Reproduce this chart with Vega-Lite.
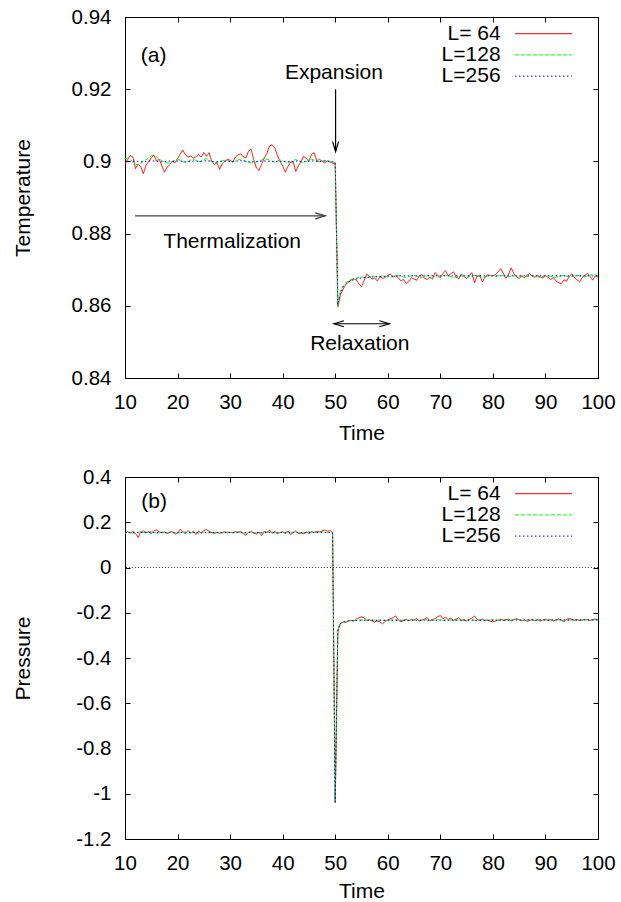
{
"$schema":"https://vega.github.io/schema/vega-lite/v6.json",
"padding":{"left":11,"top":6,"right":0,"bottom":0},
"background":"white",
"spacing":22,
"config":{
"font":"Liberation Sans",
"view":{"stroke":"#000","strokeWidth":1},
"axis":{"domain":false,"grid":false,"tickSize":-5,"tickColor":"#000","tickWidth":1,"labelFont":"Liberation Sans","labelFontSize":20.5,"labelColor":"#000","labelPadding":19,"labelFlush":false,"labelOverlap":false,"titleFont":"Liberation Sans","titleFontSize":21,"titleFontWeight":"normal","titleColor":"#000"},
"text":{"font":"Liberation Sans","fontSize":21,"color":"#000"}
},
"resolve":{"scale":{"color":"independent","strokeDash":"independent"}},
"datasets":{
"temp":[
{"t":10,"L64":0.8992,"L128":0.9008,"L256":0.9001},{"t":10.5,"L64":0.9005,"L128":0.9009,"L256":0.9000},{"t":11,"L64":0.9016,"L128":0.9005,"L256":0.8999},{"t":11.5,"L64":0.9012,"L128":0.8998,"L256":0.9000},{"t":12,"L64":0.8980,"L128":0.8992,"L256":0.9001},{"t":12.5,"L64":0.8993,"L128":0.8990,"L256":0.9000},{"t":13,"L64":0.8985,"L128":0.8995,"L256":0.8999},{"t":13.5,"L64":0.8966,"L128":0.9000,"L256":0.8999},{"t":14,"L64":0.8990,"L128":0.9004,"L256":0.9000},{"t":14.5,"L64":0.8999,"L128":0.9010,"L256":0.9001},
{"t":15,"L64":0.9010,"L128":0.9015,"L256":0.9002},{"t":15.5,"L64":0.9017,"L128":0.9018,"L256":0.9001},{"t":16,"L64":0.9001,"L128":0.9012,"L256":0.9000},{"t":16.5,"L64":0.9006,"L128":0.9007,"L256":0.8999},{"t":17,"L64":0.8988,"L128":0.9002,"L256":0.8999},{"t":17.5,"L64":0.8970,"L128":0.8998,"L256":0.9000},{"t":18,"L64":0.8983,"L128":0.8995,"L256":0.9000},{"t":18.5,"L64":0.8992,"L128":0.8997,"L256":0.9001},{"t":19,"L64":0.9000,"L128":0.9000,"L256":0.9000},{"t":19.5,"L64":0.8996,"L128":0.9003,"L256":0.9000},
{"t":20,"L64":0.9008,"L128":0.9006,"L256":0.9001},{"t":20.5,"L64":0.9020,"L128":0.9003,"L256":0.9001},{"t":21,"L64":0.9031,"L128":0.8999,"L256":0.9000},{"t":21.5,"L64":0.9018,"L128":0.8997,"L256":0.8999},{"t":22,"L64":0.9012,"L128":0.9000,"L256":0.8999},{"t":22.5,"L64":0.9015,"L128":0.9004,"L256":0.9000},{"t":23,"L64":0.9009,"L128":0.9006,"L256":0.9001},{"t":23.5,"L64":0.9013,"L128":0.9003,"L256":0.9001},{"t":24,"L64":0.9019,"L128":0.8999,"L256":0.9000},{"t":24.5,"L64":0.9012,"L128":0.9001,"L256":0.9000},
{"t":25,"L64":0.9025,"L128":0.9005,"L256":0.9001},{"t":25.5,"L64":0.9014,"L128":0.9008,"L256":0.9002},{"t":26,"L64":0.9024,"L128":0.9004,"L256":0.9001},{"t":26.5,"L64":0.9000,"L128":0.9000,"L256":0.9000},{"t":27,"L64":0.8991,"L128":0.8997,"L256":0.8999},{"t":27.5,"L64":0.8996,"L128":0.8996,"L256":0.8999},{"t":28,"L64":0.8978,"L128":0.8999,"L256":0.9000},{"t":28.5,"L64":0.8993,"L128":0.9002,"L256":0.9000},{"t":29,"L64":0.9000,"L128":0.9004,"L256":0.9001},{"t":29.5,"L64":0.9006,"L128":0.9002,"L256":0.9001},
{"t":30,"L64":0.9003,"L128":0.8999,"L256":0.9000},{"t":30.5,"L64":0.8998,"L128":0.8998,"L256":0.9000},{"t":31,"L64":0.9012,"L128":0.9001,"L256":0.9001},{"t":31.5,"L64":0.9018,"L128":0.9004,"L256":0.9001},{"t":32,"L64":0.9021,"L128":0.9006,"L256":0.9002},{"t":32.5,"L64":0.9013,"L128":0.9003,"L256":0.9001},{"t":33,"L64":0.9010,"L128":0.9000,"L256":0.9000},{"t":33.5,"L64":0.9028,"L128":0.8997,"L256":0.8999},{"t":34,"L64":0.9034,"L128":0.8996,"L256":0.8999},{"t":34.5,"L64":0.9004,"L128":0.8995,"L256":0.8999},
{"t":35,"L64":0.8982,"L128":0.8998,"L256":0.9000},{"t":35.5,"L64":0.8975,"L128":0.9001,"L256":0.9000},{"t":36,"L64":0.8992,"L128":0.9004,"L256":0.9001},{"t":36.5,"L64":0.9010,"L128":0.9007,"L256":0.9001},{"t":37,"L64":0.9022,"L128":0.9006,"L256":0.9001},{"t":37.5,"L64":0.9043,"L128":0.9003,"L256":0.9000},{"t":38,"L64":0.9046,"L128":0.9000,"L256":0.9000},{"t":38.5,"L64":0.9038,"L128":0.8998,"L256":0.8999},{"t":39,"L64":0.9016,"L128":0.9001,"L256":0.9000},{"t":39.5,"L64":0.9000,"L128":0.9004,"L256":0.9000},
{"t":40,"L64":0.8988,"L128":0.9002,"L256":0.9001},{"t":40.5,"L64":0.8970,"L128":0.8998,"L256":0.9000},{"t":41,"L64":0.8986,"L128":0.8996,"L256":0.8999},{"t":41.5,"L64":0.8997,"L128":0.8999,"L256":0.9000},{"t":42,"L64":0.8999,"L128":0.9003,"L256":0.9000},{"t":42.5,"L64":0.8972,"L128":0.9005,"L256":0.9001},{"t":43,"L64":0.8988,"L128":0.9002,"L256":0.9001},{"t":43.5,"L64":0.9000,"L128":0.8998,"L256":0.9000},{"t":44,"L64":0.9014,"L128":0.8997,"L256":0.8999},{"t":44.5,"L64":0.9008,"L128":0.9000,"L256":0.9000},
{"t":45,"L64":0.9001,"L128":0.9003,"L256":0.9000},{"t":45.5,"L64":0.9020,"L128":0.9006,"L256":0.9001},{"t":46,"L64":0.9024,"L128":0.9004,"L256":0.9001},{"t":46.5,"L64":0.9001,"L128":0.9001,"L256":0.9000},{"t":47,"L64":0.9006,"L128":0.8999,"L256":0.9000},{"t":47.5,"L64":0.9000,"L128":0.9001,"L256":0.9000},{"t":48,"L64":0.8996,"L128":0.9003,"L256":0.9001},{"t":48.5,"L64":0.9001,"L128":0.9002,"L256":0.9000},{"t":49,"L64":0.8999,"L128":0.9000,"L256":0.9000},{"t":49.5,"L64":0.8995,"L128":0.8999,"L256":0.8999},
{"t":50,"L64":0.8993,"L128":0.8996,"L256":0.8997},{"t":50.5,"L64":0.8597,"L128":0.8601,"L256":0.8603},{"t":51,"L64":0.8630,"L128":0.8641,"L256":0.8638},{"t":51.5,"L64":0.8646,"L128":0.8656,"L256":0.8652},{"t":52,"L64":0.8658,"L128":0.8664,"L256":0.8661},{"t":52.5,"L64":0.8666,"L128":0.8669,"L256":0.8666},{"t":53,"L64":0.8671,"L128":0.8673,"L256":0.8670},{"t":53.5,"L64":0.8675,"L128":0.8675,"L256":0.8672},{"t":54,"L64":0.8672,"L128":0.8677,"L256":0.8674},{"t":54.5,"L64":0.8661,"L128":0.8678,"L256":0.8676},
{"t":55,"L64":0.8653,"L128":0.8680,"L256":0.8677},{"t":55.5,"L64":0.8670,"L128":0.8679,"L256":0.8678},{"t":56,"L64":0.8688,"L128":0.8677,"L256":0.8679},{"t":56.5,"L64":0.8681,"L128":0.8680,"L256":0.8679},{"t":57,"L64":0.8674,"L128":0.8682,"L256":0.8680},{"t":57.5,"L64":0.8677,"L128":0.8681,"L256":0.8680},{"t":58,"L64":0.8669,"L128":0.8679,"L256":0.8681},{"t":58.5,"L64":0.8680,"L128":0.8681,"L256":0.8681},{"t":59,"L64":0.8676,"L128":0.8683,"L256":0.8681},{"t":59.5,"L64":0.8678,"L128":0.8682,"L256":0.8682},
{"t":60,"L64":0.8684,"L128":0.8680,"L256":0.8682},{"t":60.5,"L64":0.8688,"L128":0.8679,"L256":0.8682},{"t":61,"L64":0.8680,"L128":0.8681,"L256":0.8682},{"t":61.5,"L64":0.8683,"L128":0.8683,"L256":0.8682},{"t":62,"L64":0.8678,"L128":0.8684,"L256":0.8683},{"t":62.5,"L64":0.8669,"L128":0.8682,"L256":0.8683},{"t":63,"L64":0.8673,"L128":0.8680,"L256":0.8683},{"t":63.5,"L64":0.8662,"L128":0.8679,"L256":0.8683},{"t":64,"L64":0.8668,"L128":0.8681,"L256":0.8683},{"t":64.5,"L64":0.8678,"L128":0.8683,"L256":0.8683},
{"t":65,"L64":0.8674,"L128":0.8684,"L256":0.8683},{"t":65.5,"L64":0.8671,"L128":0.8682,"L256":0.8683},{"t":66,"L64":0.8683,"L128":0.8680,"L256":0.8683},{"t":66.5,"L64":0.8687,"L128":0.8679,"L256":0.8683},{"t":67,"L64":0.8676,"L128":0.8681,"L256":0.8683},{"t":67.5,"L64":0.8673,"L128":0.8683,"L256":0.8683},{"t":68,"L64":0.8679,"L128":0.8685,"L256":0.8683},{"t":68.5,"L64":0.8674,"L128":0.8683,"L256":0.8683},{"t":69,"L64":0.8692,"L128":0.8681,"L256":0.8683},{"t":69.5,"L64":0.8684,"L128":0.8680,"L256":0.8683},
{"t":70,"L64":0.8678,"L128":0.8682,"L256":0.8683},{"t":70.5,"L64":0.8690,"L128":0.8684,"L256":0.8683},{"t":71,"L64":0.8697,"L128":0.8685,"L256":0.8683},{"t":71.5,"L64":0.8683,"L128":0.8683,"L256":0.8683},{"t":72,"L64":0.8689,"L128":0.8680,"L256":0.8683},{"t":72.5,"L64":0.8694,"L128":0.8678,"L256":0.8683},{"t":73,"L64":0.8680,"L128":0.8680,"L256":0.8683},{"t":73.5,"L64":0.8675,"L128":0.8682,"L256":0.8683},{"t":74,"L64":0.8688,"L128":0.8683,"L256":0.8683},{"t":74.5,"L64":0.8682,"L128":0.8681,"L256":0.8683},
{"t":75,"L64":0.8676,"L128":0.8679,"L256":0.8683},{"t":75.5,"L64":0.8684,"L128":0.8680,"L256":0.8683},{"t":76,"L64":0.8692,"L128":0.8682,"L256":0.8683},{"t":76.5,"L64":0.8664,"L128":0.8684,"L256":0.8683},{"t":77,"L64":0.8682,"L128":0.8683,"L256":0.8683},{"t":77.5,"L64":0.8685,"L128":0.8681,"L256":0.8683},{"t":78,"L64":0.8666,"L128":0.8679,"L256":0.8683},{"t":78.5,"L64":0.8680,"L128":0.8680,"L256":0.8683},{"t":79,"L64":0.8686,"L128":0.8682,"L256":0.8683},{"t":79.5,"L64":0.8684,"L128":0.8684,"L256":0.8683},
{"t":80,"L64":0.8683,"L128":0.8683,"L256":0.8683},{"t":80.5,"L64":0.8686,"L128":0.8681,"L256":0.8683},{"t":81,"L64":0.8694,"L128":0.8683,"L256":0.8683},{"t":81.5,"L64":0.8703,"L128":0.8685,"L256":0.8683},{"t":82,"L64":0.8690,"L128":0.8684,"L256":0.8683},{"t":82.5,"L64":0.8676,"L128":0.8682,"L256":0.8683},{"t":83,"L64":0.8688,"L128":0.8680,"L256":0.8683},{"t":83.5,"L64":0.8705,"L128":0.8681,"L256":0.8683},{"t":84,"L64":0.8689,"L128":0.8683,"L256":0.8683},{"t":84.5,"L64":0.8680,"L128":0.8684,"L256":0.8683},
{"t":85,"L64":0.8676,"L128":0.8682,"L256":0.8683},{"t":85.5,"L64":0.8683,"L128":0.8680,"L256":0.8683},{"t":86,"L64":0.8678,"L128":0.8679,"L256":0.8683},{"t":86.5,"L64":0.8685,"L128":0.8681,"L256":0.8683},{"t":87,"L64":0.8689,"L128":0.8683,"L256":0.8683},{"t":87.5,"L64":0.8682,"L128":0.8684,"L256":0.8683},{"t":88,"L64":0.8679,"L128":0.8682,"L256":0.8683},{"t":88.5,"L64":0.8684,"L128":0.8680,"L256":0.8683},{"t":89,"L64":0.8680,"L128":0.8679,"L256":0.8683},{"t":89.5,"L64":0.8677,"L128":0.8681,"L256":0.8683},
{"t":90,"L64":0.8683,"L128":0.8683,"L256":0.8683},{"t":90.5,"L64":0.8679,"L128":0.8684,"L256":0.8683},{"t":91,"L64":0.8673,"L128":0.8682,"L256":0.8683},{"t":91.5,"L64":0.8678,"L128":0.8680,"L256":0.8683},{"t":92,"L64":0.8669,"L128":0.8679,"L256":0.8683},{"t":92.5,"L64":0.8664,"L128":0.8681,"L256":0.8683},{"t":93,"L64":0.8661,"L128":0.8683,"L256":0.8683},{"t":93.5,"L64":0.8672,"L128":0.8684,"L256":0.8683},{"t":94,"L64":0.8668,"L128":0.8682,"L256":0.8683},{"t":94.5,"L64":0.8680,"L128":0.8680,"L256":0.8683},
{"t":95,"L64":0.8689,"L128":0.8681,"L256":0.8683},{"t":95.5,"L64":0.8678,"L128":0.8683,"L256":0.8683},{"t":96,"L64":0.8672,"L128":0.8685,"L256":0.8683},{"t":96.5,"L64":0.8666,"L128":0.8683,"L256":0.8683},{"t":97,"L64":0.8679,"L128":0.8681,"L256":0.8683},{"t":97.5,"L64":0.8685,"L128":0.8680,"L256":0.8683},{"t":98,"L64":0.8690,"L128":0.8682,"L256":0.8683},{"t":98.5,"L64":0.8681,"L128":0.8685,"L256":0.8683},{"t":99,"L64":0.8671,"L128":0.8687,"L256":0.8683},{"t":99.5,"L64":0.8683,"L128":0.8685,"L256":0.8683},
{"t":100,"L64":0.8680,"L128":0.8684,"L256":0.8683}
],
"pres":[
{"t":10,"L64":0.150,"L128":0.155,"L256":0.154},{"t":10.5,"L64":0.158,"L128":0.157,"L256":0.155},{"t":11,"L64":0.152,"L128":0.154,"L256":0.155},{"t":11.5,"L64":0.160,"L128":0.152,"L256":0.154},{"t":12,"L64":0.150,"L128":0.153,"L256":0.154},{"t":12.5,"L64":0.133,"L128":0.156,"L256":0.155},{"t":13,"L64":0.156,"L128":0.158,"L256":0.155},{"t":13.5,"L64":0.162,"L128":0.155,"L256":0.154},{"t":14,"L64":0.155,"L128":0.153,"L256":0.154},{"t":14.5,"L64":0.158,"L128":0.156,"L256":0.155},
{"t":15,"L64":0.150,"L128":0.158,"L256":0.155},{"t":15.5,"L64":0.163,"L128":0.155,"L256":0.154},{"t":16,"L64":0.166,"L128":0.152,"L256":0.154},{"t":16.5,"L64":0.158,"L128":0.154,"L256":0.155},{"t":17,"L64":0.153,"L128":0.157,"L256":0.155},{"t":17.5,"L64":0.157,"L128":0.156,"L256":0.154},{"t":18,"L64":0.150,"L128":0.153,"L256":0.154},{"t":18.5,"L64":0.155,"L128":0.155,"L256":0.155},{"t":19,"L64":0.160,"L128":0.157,"L256":0.155},{"t":19.5,"L64":0.147,"L128":0.154,"L256":0.154},
{"t":20,"L64":0.153,"L128":0.152,"L256":0.154},{"t":20.5,"L64":0.168,"L128":0.155,"L256":0.155},{"t":21,"L64":0.158,"L128":0.158,"L256":0.155},{"t":21.5,"L64":0.150,"L128":0.156,"L256":0.154},{"t":22,"L64":0.164,"L128":0.153,"L256":0.154},{"t":22.5,"L64":0.152,"L128":0.154,"L256":0.155},{"t":23,"L64":0.160,"L128":0.157,"L256":0.155},{"t":23.5,"L64":0.146,"L128":0.155,"L256":0.154},{"t":24,"L64":0.162,"L128":0.152,"L256":0.154},{"t":24.5,"L64":0.150,"L128":0.154,"L256":0.155},
{"t":25,"L64":0.164,"L128":0.157,"L256":0.155},{"t":25.5,"L64":0.168,"L128":0.158,"L256":0.155},{"t":26,"L64":0.160,"L128":0.155,"L256":0.154},{"t":26.5,"L64":0.154,"L128":0.153,"L256":0.154},{"t":27,"L64":0.150,"L128":0.154,"L256":0.155},{"t":27.5,"L64":0.156,"L128":0.156,"L256":0.155},{"t":28,"L64":0.152,"L128":0.155,"L256":0.154},{"t":28.5,"L64":0.155,"L128":0.153,"L256":0.154},{"t":29,"L64":0.157,"L128":0.155,"L256":0.155},{"t":29.5,"L64":0.153,"L128":0.157,"L256":0.155},
{"t":30,"L64":0.156,"L128":0.155,"L256":0.154},{"t":30.5,"L64":0.154,"L128":0.153,"L256":0.154},{"t":31,"L64":0.158,"L128":0.155,"L256":0.155},{"t":31.5,"L64":0.155,"L128":0.157,"L256":0.155},{"t":32,"L64":0.160,"L128":0.156,"L256":0.154},{"t":32.5,"L64":0.150,"L128":0.153,"L256":0.154},{"t":33,"L64":0.143,"L128":0.152,"L256":0.155},{"t":33.5,"L64":0.156,"L128":0.155,"L256":0.155},{"t":34,"L64":0.160,"L128":0.157,"L256":0.154},{"t":34.5,"L64":0.152,"L128":0.155,"L256":0.154},
{"t":35,"L64":0.148,"L128":0.153,"L256":0.155},{"t":35.5,"L64":0.157,"L128":0.154,"L256":0.155},{"t":36,"L64":0.140,"L128":0.153,"L256":0.154},{"t":36.5,"L64":0.160,"L128":0.156,"L256":0.154},{"t":37,"L64":0.155,"L128":0.158,"L256":0.155},{"t":37.5,"L64":0.165,"L128":0.156,"L256":0.155},{"t":38,"L64":0.152,"L128":0.154,"L256":0.154},{"t":38.5,"L64":0.158,"L128":0.155,"L256":0.154},{"t":39,"L64":0.150,"L128":0.153,"L256":0.155},{"t":39.5,"L64":0.155,"L128":0.154,"L256":0.155},
{"t":40,"L64":0.158,"L128":0.156,"L256":0.154},{"t":40.5,"L64":0.150,"L128":0.155,"L256":0.154},{"t":41,"L64":0.162,"L128":0.153,"L256":0.155},{"t":41.5,"L64":0.146,"L128":0.152,"L256":0.155},{"t":42,"L64":0.155,"L128":0.155,"L256":0.154},{"t":42.5,"L64":0.162,"L128":0.157,"L256":0.154},{"t":43,"L64":0.150,"L128":0.155,"L256":0.155},{"t":43.5,"L64":0.152,"L128":0.153,"L256":0.155},{"t":44,"L64":0.149,"L128":0.154,"L256":0.154},{"t":44.5,"L64":0.156,"L128":0.156,"L256":0.154},
{"t":45,"L64":0.150,"L128":0.158,"L256":0.155},{"t":45.5,"L64":0.158,"L128":0.156,"L256":0.155},{"t":46,"L64":0.155,"L128":0.154,"L256":0.154},{"t":46.5,"L64":0.160,"L128":0.155,"L256":0.154},{"t":47,"L64":0.157,"L128":0.157,"L256":0.155},{"t":47.5,"L64":0.162,"L128":0.158,"L256":0.155},{"t":48,"L64":0.166,"L128":0.156,"L256":0.155},{"t":48.5,"L64":0.160,"L128":0.155,"L256":0.154},{"t":49,"L64":0.163,"L128":0.157,"L256":0.155},{"t":49.5,"L64":0.157,"L128":0.155,"L256":0.154},
{"t":50,"L64":-1.040,"L128":-1.034,"L256":-1.036},{"t":50.5,"L64":-0.280,"L128":-0.272,"L256":-0.275},{"t":51,"L64":-0.248,"L128":-0.246,"L256":-0.247},{"t":51.5,"L64":-0.240,"L128":-0.241,"L256":-0.241},{"t":52,"L64":-0.242,"L128":-0.238,"L256":-0.238},{"t":52.5,"L64":-0.236,"L128":-0.236,"L256":-0.236},{"t":53,"L64":-0.233,"L128":-0.235,"L256":-0.235},{"t":53.5,"L64":-0.238,"L128":-0.234,"L256":-0.234},{"t":54,"L64":-0.228,"L128":-0.234,"L256":-0.234},{"t":54.5,"L64":-0.223,"L128":-0.233,"L256":-0.233},
{"t":55,"L64":-0.218,"L128":-0.233,"L256":-0.233},{"t":55.5,"L64":-0.222,"L128":-0.232,"L256":-0.233},{"t":56,"L64":-0.234,"L128":-0.233,"L256":-0.233},{"t":56.5,"L64":-0.231,"L128":-0.234,"L256":-0.233},{"t":57,"L64":-0.236,"L128":-0.232,"L256":-0.233},{"t":57.5,"L64":-0.240,"L128":-0.233,"L256":-0.233},{"t":58,"L64":-0.236,"L128":-0.234,"L256":-0.233},{"t":58.5,"L64":-0.240,"L128":-0.232,"L256":-0.233},{"t":59,"L64":-0.249,"L128":-0.233,"L256":-0.233},{"t":59.5,"L64":-0.238,"L128":-0.235,"L256":-0.233},
{"t":60,"L64":-0.232,"L128":-0.233,"L256":-0.233},{"t":60.5,"L64":-0.226,"L128":-0.232,"L256":-0.233},{"t":61,"L64":-0.222,"L128":-0.233,"L256":-0.233},{"t":61.5,"L64":-0.214,"L128":-0.231,"L256":-0.233},{"t":62,"L64":-0.232,"L128":-0.233,"L256":-0.233},{"t":62.5,"L64":-0.240,"L128":-0.234,"L256":-0.233},{"t":63,"L64":-0.234,"L128":-0.232,"L256":-0.233},{"t":63.5,"L64":-0.230,"L128":-0.233,"L256":-0.233},{"t":64,"L64":-0.236,"L128":-0.234,"L256":-0.233},{"t":64.5,"L64":-0.229,"L128":-0.232,"L256":-0.233},
{"t":65,"L64":-0.233,"L128":-0.231,"L256":-0.233},{"t":65.5,"L64":-0.225,"L128":-0.233,"L256":-0.233},{"t":66,"L64":-0.237,"L128":-0.234,"L256":-0.233},{"t":66.5,"L64":-0.232,"L128":-0.233,"L256":-0.233},{"t":67,"L64":-0.228,"L128":-0.231,"L256":-0.233},{"t":67.5,"L64":-0.222,"L128":-0.232,"L256":-0.233},{"t":68,"L64":-0.235,"L128":-0.234,"L256":-0.233},{"t":68.5,"L64":-0.230,"L128":-0.233,"L256":-0.233},{"t":69,"L64":-0.226,"L128":-0.232,"L256":-0.233},{"t":69.5,"L64":-0.218,"L128":-0.231,"L256":-0.233},
{"t":70,"L64":-0.212,"L128":-0.232,"L256":-0.233},{"t":70.5,"L64":-0.226,"L128":-0.234,"L256":-0.233},{"t":71,"L64":-0.220,"L128":-0.233,"L256":-0.233},{"t":71.5,"L64":-0.230,"L128":-0.232,"L256":-0.233},{"t":72,"L64":-0.224,"L128":-0.231,"L256":-0.233},{"t":72.5,"L64":-0.233,"L128":-0.233,"L256":-0.233},{"t":73,"L64":-0.228,"L128":-0.234,"L256":-0.233},{"t":73.5,"L64":-0.222,"L128":-0.232,"L256":-0.233},{"t":74,"L64":-0.234,"L128":-0.231,"L256":-0.233},{"t":74.5,"L64":-0.230,"L128":-0.233,"L256":-0.233},
{"t":75,"L64":-0.236,"L128":-0.234,"L256":-0.233},{"t":75.5,"L64":-0.229,"L128":-0.232,"L256":-0.233},{"t":76,"L64":-0.224,"L128":-0.231,"L256":-0.233},{"t":76.5,"L64":-0.214,"L128":-0.233,"L256":-0.233},{"t":77,"L64":-0.230,"L128":-0.234,"L256":-0.233},{"t":77.5,"L64":-0.233,"L128":-0.232,"L256":-0.233},{"t":78,"L64":-0.228,"L128":-0.231,"L256":-0.233},{"t":78.5,"L64":-0.236,"L128":-0.233,"L256":-0.233},{"t":79,"L64":-0.232,"L128":-0.234,"L256":-0.233},{"t":79.5,"L64":-0.238,"L128":-0.232,"L256":-0.233},
{"t":80,"L64":-0.240,"L128":-0.231,"L256":-0.233},{"t":80.5,"L64":-0.236,"L128":-0.233,"L256":-0.233},{"t":81,"L64":-0.233,"L128":-0.234,"L256":-0.233},{"t":81.5,"L64":-0.229,"L128":-0.232,"L256":-0.233},{"t":82,"L64":-0.234,"L128":-0.231,"L256":-0.233},{"t":82.5,"L64":-0.231,"L128":-0.233,"L256":-0.233},{"t":83,"L64":-0.228,"L128":-0.234,"L256":-0.233},{"t":83.5,"L64":-0.236,"L128":-0.232,"L256":-0.233},{"t":84,"L64":-0.230,"L128":-0.230,"L256":-0.232},{"t":84.5,"L64":-0.226,"L128":-0.229,"L256":-0.232},
{"t":85,"L64":-0.232,"L128":-0.231,"L256":-0.232},{"t":85.5,"L64":-0.236,"L128":-0.233,"L256":-0.232},{"t":86,"L64":-0.231,"L128":-0.234,"L256":-0.232},{"t":86.5,"L64":-0.238,"L128":-0.232,"L256":-0.232},{"t":87,"L64":-0.234,"L128":-0.231,"L256":-0.232},{"t":87.5,"L64":-0.229,"L128":-0.233,"L256":-0.232},{"t":88,"L64":-0.235,"L128":-0.234,"L256":-0.232},{"t":88.5,"L64":-0.231,"L128":-0.232,"L256":-0.232},{"t":89,"L64":-0.237,"L128":-0.231,"L256":-0.232},{"t":89.5,"L64":-0.232,"L128":-0.233,"L256":-0.232},
{"t":90,"L64":-0.228,"L128":-0.232,"L256":-0.232},{"t":90.5,"L64":-0.234,"L128":-0.231,"L256":-0.232},{"t":91,"L64":-0.230,"L128":-0.233,"L256":-0.232},{"t":91.5,"L64":-0.236,"L128":-0.234,"L256":-0.232},{"t":92,"L64":-0.231,"L128":-0.232,"L256":-0.232},{"t":92.5,"L64":-0.227,"L128":-0.231,"L256":-0.232},{"t":93,"L64":-0.232,"L128":-0.233,"L256":-0.232},{"t":93.5,"L64":-0.240,"L128":-0.234,"L256":-0.232},{"t":94,"L64":-0.229,"L128":-0.232,"L256":-0.232},{"t":94.5,"L64":-0.226,"L128":-0.231,"L256":-0.232},
{"t":95,"L64":-0.228,"L128":-0.233,"L256":-0.232},{"t":95.5,"L64":-0.233,"L128":-0.234,"L256":-0.232},{"t":96,"L64":-0.230,"L128":-0.232,"L256":-0.232},{"t":96.5,"L64":-0.235,"L128":-0.231,"L256":-0.232},{"t":97,"L64":-0.232,"L128":-0.233,"L256":-0.232},{"t":97.5,"L64":-0.229,"L128":-0.232,"L256":-0.232},{"t":98,"L64":-0.231,"L128":-0.231,"L256":-0.232},{"t":98.5,"L64":-0.234,"L128":-0.233,"L256":-0.232},{"t":99,"L64":-0.230,"L128":-0.232,"L256":-0.232},{"t":99.5,"L64":-0.228,"L128":-0.231,"L256":-0.232},
{"t":100,"L64":-0.231,"L128":-0.232,"L256":-0.232}
]
},
"vconcat":[
{
"width":473,"height":361,
"layer":[
{"data":{"name":"temp"},
"transform":[{"fold":["L64","L128","L256"],"as":["L","v"]}],
"mark":{"type":"line","strokeWidth":1},
"encoding":{
"x":{"field":"t","type":"quantitative","scale":{"domain":[10,100],"nice":false,"zero":false},"axis":{"orient":"bottom","title":"Time","values":[10,20,30,40,50,60,70,80,90,100],"titlePadding":9.5}},
"y":{"field":"v","type":"quantitative","scale":{"domain":[0.84,0.94],"nice":false,"zero":false},"axis":{"orient":"left","title":"Temperature","values":[0.84,0.86,0.88,0.9,0.92,0.94],"labelExpr":"'' + datum.value","titlePadding":38}},
"color":{"field":"L","type":"nominal","scale":{"domain":["L64","L128","L256"],"range":["#ff0000","#00ff00","#0000ff"]},"legend":{"orient":"none","legendX":408,"legendY":6.2,"title":null,"padding":0,"symbolType":"M-3,0H3","symbolSize":361,"symbolStrokeWidth":1,"symbolFillColor":"transparent","labelAlign":"right","labelOffset":-53.4,"labelFontSize":21,"labelFont":"Liberation Sans","labelColor":"#000","rowPadding":-0.8,"labelExpr":"datum.label == 'L64' ? 'L= 64' : datum.label == 'L128' ? 'L=128' : 'L=256'"}},
"strokeDash":{"field":"L","type":"nominal","scale":{"domain":["L64","L128","L256"],"range":[[1,0],[4,2],[1.5,2.5]]},"legend":{"orient":"none","legendX":408,"legendY":6.2,"title":null,"padding":0,"symbolType":"M-3,0H3","symbolSize":361,"symbolStrokeWidth":1,"symbolFillColor":"transparent","labelAlign":"right","labelOffset":-53.4,"labelFontSize":21,"labelFont":"Liberation Sans","labelColor":"#000","rowPadding":-0.8,"labelExpr":"datum.label == 'L64' ? 'L= 64' : datum.label == 'L128' ? 'L=128' : 'L=256'"}}
}},
{"data":{"values":[{}]},
"mark":{"type":"text","text":"(a)","fontSize":21,"align":"center","baseline":"alphabetic"},
"encoding":{
"x":{"datum":15.43,"type":"quantitative","axis":{"orient":"top","labels":false,"title":null,"values":[10,20,30,40,50,60,70,80,90,100]}},
"y":{"datum":0.9276,"type":"quantitative","axis":{"orient":"right","labels":false,"title":null,"values":[0.84,0.86,0.88,0.9,0.92,0.94]}}
}},
{"data":{"values":[{}]},
"mark":{"type":"text","text":"Expansion","fontSize":21,"align":"center","baseline":"alphabetic"},
"encoding":{"x":{"datum":49.75,"type":"quantitative","axis":null},"y":{"datum":0.92276,"type":"quantitative","axis":null}}},
{"data":{"values":[{}]},
"mark":{"type":"text","text":"Thermalization","fontSize":21,"align":"center","baseline":"alphabetic"},
"encoding":{"x":{"datum":30.39,"type":"quantitative","axis":null},"y":{"datum":0.87598,"type":"quantitative","axis":null}}},
{"data":{"values":[{}]},
"mark":{"type":"text","text":"Relaxation","fontSize":21,"align":"center","baseline":"alphabetic"},
"encoding":{"x":{"datum":54.68,"type":"quantitative","axis":null},"y":{"datum":0.84775,"type":"quantitative","axis":null}}},
{"data":{"values":[{}]},
"mark":{"type":"rule","color":"#000","strokeWidth":1.2},
"encoding":{"x":{"datum":50.07,"type":"quantitative","axis":null},"y":{"datum":0.91999,"type":"quantitative","axis":null},"y2":{"datum":0.9028}}},
{"data":{"values":[{}]},
"mark":{"type":"rule","color":"#404040","strokeWidth":1.2},
"encoding":{"x":{"datum":11.9,"type":"quantitative","axis":null},"x2":{"datum":48.1},"y":{"datum":0.88492,"type":"quantitative","axis":null}}},
{"data":{"values":[{}]},
"mark":{"type":"rule","color":"#000","strokeWidth":1.2},
"encoding":{"x":{"datum":49.75,"type":"quantitative","axis":null},"x2":{"datum":60.3},"y":{"datum":0.85503,"type":"quantitative","axis":null}}},
{"data":{"values":[{}]},
"mark":{"type":"point","shape":"M-0.3,-1L0,0L0.3,-1","size":400,"filled":false,"stroke":"#000","strokeWidth":1.2,"opacity":1},
"encoding":{"x":{"datum":50.07,"type":"quantitative","axis":null},"y":{"datum":0.90272,"type":"quantitative","axis":null}}},
{"data":{"values":[{}]},
"mark":{"type":"point","shape":"M-1,-0.3L0,0L-1,0.3","size":400,"filled":false,"stroke":"#404040","strokeWidth":1.2,"opacity":1},
"encoding":{"x":{"datum":48.1,"type":"quantitative","axis":null},"y":{"datum":0.88492,"type":"quantitative","axis":null}}},
{"data":{"values":[{}]},
"mark":{"type":"point","shape":"M1,-0.3L0,0L1,0.3","size":400,"filled":false,"stroke":"#000","strokeWidth":1.2,"opacity":1},
"encoding":{"x":{"datum":49.75,"type":"quantitative","axis":null},"y":{"datum":0.85503,"type":"quantitative","axis":null}}},
{"data":{"values":[{}]},
"mark":{"type":"point","shape":"M-1,-0.3L0,0L-1,0.3","size":400,"filled":false,"stroke":"#000","strokeWidth":1.2,"opacity":1},
"encoding":{"x":{"datum":60.3,"type":"quantitative","axis":null},"y":{"datum":0.85503,"type":"quantitative","axis":null}}}
]
},
{
"width":473,"height":362,
"layer":[
{"data":{"name":"pres"},
"transform":[{"fold":["L64","L128","L256"],"as":["L","v"]}],
"mark":{"type":"line","strokeWidth":1},
"encoding":{
"x":{"field":"t","type":"quantitative","scale":{"domain":[10,100],"nice":false,"zero":false},"axis":{"orient":"bottom","title":"Time","values":[10,20,30,40,50,60,70,80,90,100],"titlePadding":7}},
"y":{"field":"v","type":"quantitative","scale":{"domain":[-1.2,0.4],"nice":false,"zero":false},"axis":{"orient":"left","title":"Pressure","values":[-1.2,-1,-0.8,-0.6,-0.4,-0.2,0,0.2,0.4],"labelExpr":"'' + datum.value","titlePadding":42.6}},
"color":{"field":"L","type":"nominal","scale":{"domain":["L64","L128","L256"],"range":["#ff0000","#00ff00","#0000ff"]},"legend":{"orient":"none","legendX":408,"legendY":6.2,"title":null,"padding":0,"symbolType":"M-3,0H3","symbolSize":361,"symbolStrokeWidth":1,"symbolFillColor":"transparent","labelAlign":"right","labelOffset":-53.4,"labelFontSize":21,"labelFont":"Liberation Sans","labelColor":"#000","rowPadding":-0.8,"labelExpr":"datum.label == 'L64' ? 'L= 64' : datum.label == 'L128' ? 'L=128' : 'L=256'"}},
"strokeDash":{"field":"L","type":"nominal","scale":{"domain":["L64","L128","L256"],"range":[[1,0],[4,2],[1.5,2.5]]},"legend":{"orient":"none","legendX":408,"legendY":6.2,"title":null,"padding":0,"symbolType":"M-3,0H3","symbolSize":361,"symbolStrokeWidth":1,"symbolFillColor":"transparent","labelAlign":"right","labelOffset":-53.4,"labelFontSize":21,"labelFont":"Liberation Sans","labelColor":"#000","rowPadding":-0.8,"labelExpr":"datum.label == 'L64' ? 'L= 64' : datum.label == 'L128' ? 'L=128' : 'L=256'"}}
}},
{"data":{"values":[{}]},
"mark":{"type":"rule","color":"#333","strokeWidth":1,"strokeDash":[1,2]},
"encoding":{"y":{"datum":0,"type":"quantitative","axis":null}}},
{"data":{"values":[{}]},
"mark":{"type":"text","text":"(b)","fontSize":21,"align":"center","baseline":"alphabetic"},
"encoding":{
"x":{"datum":15.55,"type":"quantitative","axis":{"orient":"top","labels":false,"title":null,"values":[10,20,30,40,50,60,70,80,90,100]}},
"y":{"datum":0.264,"type":"quantitative","axis":{"orient":"right","labels":false,"title":null,"values":[-1.2,-1,-0.8,-0.6,-0.4,-0.2,0,0.2,0.4]}}
}}
]
}
]
}
